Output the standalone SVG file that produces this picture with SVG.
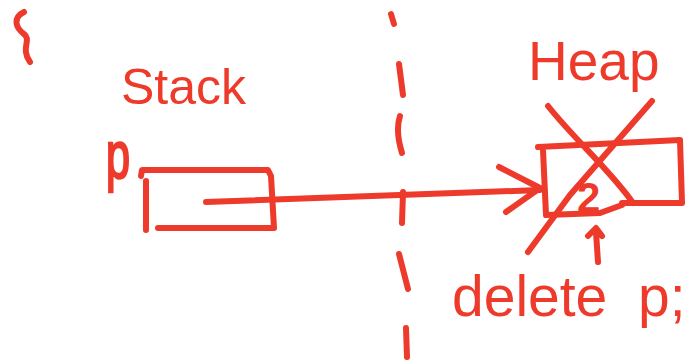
<svg xmlns="http://www.w3.org/2000/svg" width="691" height="360" viewBox="0 0 691 360">
<style>
.s{fill:none;stroke:#EE3A2B;stroke-width:6;stroke-linecap:round;stroke-linejoin:round}
.t{fill:#EE3A2B;font-family:"Liberation Sans",Arial,sans-serif}
</style>
<rect width="691" height="360" fill="#fff"/>
<g id="brace"><path class="s" d="M24,12 C12,18 16,28 24,34 C32,40 20,48 30,62"/></g>
<g id="divider">
<path class="s" d="M391,14 L394,24 M399,64 L403,95 M400,116 C396,128 398,140 402,153 M403,192 L402,223 M399,254 L408,289 M406,328 L407,357"/>
</g>
<g id="stack-label"><text class="t" x="121" y="104" font-size="50">Stack</text></g>
<g id="p-label"><text class="t" x="106" y="178" font-size="66" textLength="24" lengthAdjust="spacingAndGlyphs" stroke="#EE3A2B" stroke-width="2.5">p</text></g>
<g id="stack-box">
<path class="s" d="M141,176 L142,170 L268,170 L271,176 L274,228 L158,228 M146,181 L146,230"/>
</g>
<g id="heap-label"><text class="t" x="528" y="80" font-size="55">Heap</text></g>
<g id="heap-box">
<path class="s" d="M538,147 L680,140 L682,203 L622,203 M543,150 L546,215 L600,213 L622,205"/>
<text class="t" x="577" y="212" font-size="42" font-weight="bold">2</text>
<path class="s" d="M548,106 C575,140 610,170 633,203"/>
<path class="s" d="M652,101 L570,195 L528,252"/>
</g>
<g id="connectors">
<path class="s" d="M206,202 L540,190"/>
<path class="s" d="M499,167 L540,188 L506,212"/>
<path class="s" d="M598,262 L596,232 M588,236 L596,228 L602,236"/>
</g>
<g id="delete-label"><text class="t" x="452" y="316" font-size="57">delete<tspan x="638">p;</tspan></text></g>
</svg>
